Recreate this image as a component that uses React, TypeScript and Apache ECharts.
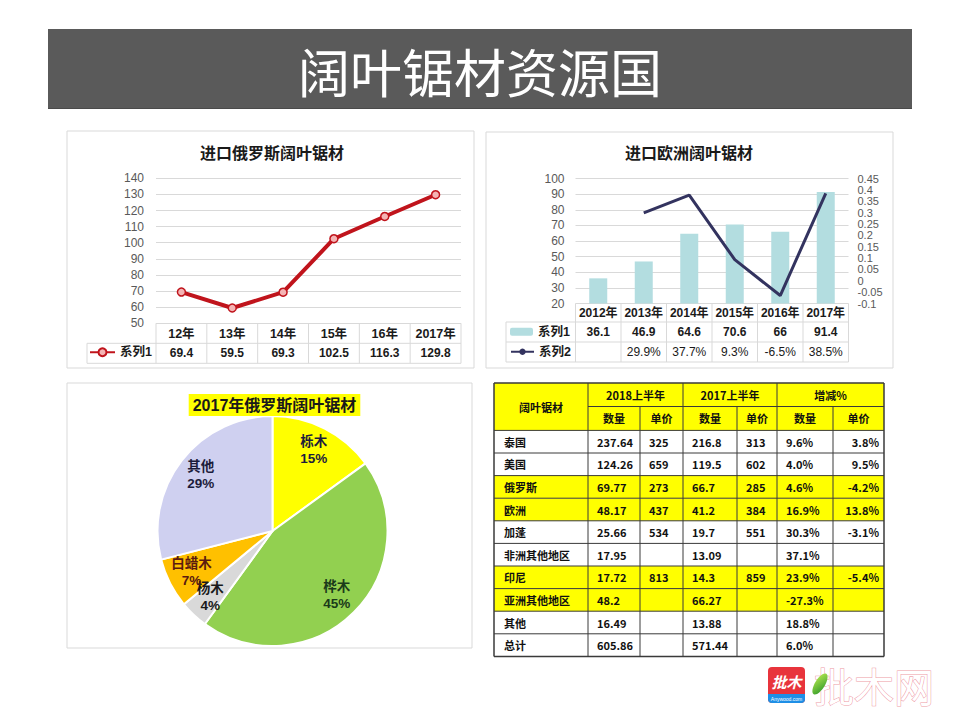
import React, { useEffect, useRef } from "react";
import * as echarts from "echarts";

// ---------------- data ----------------
const pageTitle = "阔叶锯材资源国";

const ruTitle = "进口俄罗斯阔叶锯材";
const ruYears = ["12年", "13年", "14年", "15年", "16年", "2017年"];
const ruValues = [69.4, 59.5, 69.3, 102.5, 116.3, 129.8];
const ruSeries = "俄罗斯:系列1";
const ruAxisTicks = { min: 50, max: 140, interval: 10 };

const euTitle = "进口欧洲阔叶锯材";
const euYears = ["2012年", "2013年", "2014年", "2015年", "2016年", "2017年"];
const euVolume = [36.1, 46.9, 64.6, 70.6, 66, 91.4];
const euGrowth = [null, 0.299, 0.377, 0.093, -0.065, 0.385];
const euSeries1 = "欧洲:系列1";
const euSeries2 = "欧洲:系列2";
const euLeftTicks = { min: 20, max: 100, interval: 10 };
const euRightTicks = { min: -0.1, max: 0.45, interval: 0.05 };

const pieTitle = "2017年俄罗斯阔叶锯材";
const pieNames = ["栎木", "桦木", "杨木", "白蜡木", "其他"];
const pieShares = [15, 45, 4, 7, 29];
const pieColors = ["#ffff00", "#92d050", "#d9d9d9", "#ffc000", "#cfd0f0"];
const pieLabelColors = ["#1c1c3c", "#1a3a1a", "#1a1a1a", "#5a1a10", "#1c1c3c"];

const tableHeadCorner = "阔叶锯材";
const tableGroups = ["2018上半年", "2017上半年", "增减%"];
const tableSubHeads = ["数量", "单价", "数量", "单价", "数量", "单价"];
const tableRows = ["泰国", "美国", "俄罗斯", "欧洲", "加蓬", "非洲其他地区", "印尼", "亚洲其他地区", "其他", "总计"];
const qty2018 = ["237.64", "124.26", "69.77", "48.17", "25.66", "17.95", "17.72", "48.2", "16.49", "605.86"];
const price2018 = ["325", "659", "273", "437", "534", "", "813", "", "", ""];
const qty2017 = ["216.8", "119.5", "66.7", "41.2", "19.7", "13.09", "14.3", "66.27", "13.88", "571.44"];
const price2017 = ["313", "602", "285", "384", "551", "", "859", "", "", ""];
const qtyChange = ["9.6%", "4.0%", "4.6%", "16.9%", "30.3%", "37.1%", "23.9%", "-27.3%", "18.8%", "6.0%"];
const priceChange = ["3.8%", "9.5%", "-4.2%", "13.8%", "-3.1%", "", "-5.4%", "", "", ""];
const highlightRows = [false, false, true, true, false, false, true, true, false, false];

// ---------------- layout ----------------
const LAT = '"Liberation Sans", "Noto Sans CJK SC", sans-serif';
const CJK = '"Noto Sans CJK SC", sans-serif';
const GRID_LINE = "#d9d9d9";

const G1 = { left: 156, top: 178.3, width: 305, height: 145 };
const G2 = { left: 575.5, top: 178.5, width: 273, height: 125 };
const PIE_CX = 272.5;
const PIE_CY = 531;
const PIE_R = 115;

const T_COLS = [494, 588, 640, 683, 737, 777, 833, 884];
const T_TOP = 383;
const T_MID = 406.5;
const T_DATA = 430.4;
const T_ROW = 22.6;

function buildTable(): any[] {
  const els: any[] = [];
  const left = T_COLS[0];
  const right = T_COLS[T_COLS.length - 1];
  const bottom = T_DATA + T_ROW * tableRows.length;
  els.push({ type: "rect", shape: { x: left, y: T_TOP, width: right - left, height: T_DATA - T_TOP }, style: { fill: "#ffff00" } });
  highlightRows.forEach((h, i) => {
    if (h) els.push({ type: "rect", shape: { x: left, y: T_DATA + i * T_ROW, width: right - left, height: T_ROW }, style: { fill: "#ffff00" } });
  });
  const line = (x1: number, y1: number, x2: number, y2: number, w = 1) =>
    els.push({ type: "line", shape: { x1, y1, x2, y2 }, style: { stroke: "#3a3a3a", lineWidth: w } });
  line(left, T_TOP, right, T_TOP, 1.5);
  line(T_COLS[1], T_MID, right, T_MID);
  for (let i = 0; i <= tableRows.length; i++) {
    const y = T_DATA + i * T_ROW;
    line(left, y, right, y, i === tableRows.length ? 1.5 : 1);
  }
  T_COLS.forEach((x, k) => {
    const full = k === 0 || k === 1 || k === 3 || k === 5 || k === 7;
    line(x, full ? T_TOP : T_MID, x, bottom, k === 0 || k === 7 ? 1.5 : 1);
  });
  const txt = (text: string, x: number, y: number, align: string) =>
    els.push({
      type: "text",
      x,
      y,
      style: { text, fill: "#111", font: `bold 11px ${CJK}`, align, verticalAlign: "middle" },
    });
  txt(tableHeadCorner, (T_COLS[0] + T_COLS[1]) / 2, (T_TOP + T_DATA) / 2, "center");
  tableGroups.forEach((g, k) => {
    txt(g, (T_COLS[1 + 2 * k] + T_COLS[3 + 2 * k]) / 2, (T_TOP + T_MID) / 2, "center");
  });
  tableSubHeads.forEach((s, k) => {
    txt(s, (T_COLS[1 + k] + T_COLS[2 + k]) / 2, (T_MID + T_DATA) / 2, "center");
  });
  const cols = [tableRows, qty2018, price2018, qty2017, price2017, qtyChange, priceChange];
  cols.forEach((col, c) => {
    col.forEach((v, r) => {
      if (!v) return;
      const y = T_DATA + (r + 0.5) * T_ROW;
      if (c === 6) txt(v, T_COLS[7] - 5, y, "right");
      else txt(v, T_COLS[c] + (c === 0 ? 10 : 9), y, "left");
    });
  });
  return els;
}

function chartTableLines(): any[] {
  const els: any[] = [];
  const l = (x1: number, y1: number, x2: number, y2: number) =>
    els.push({ type: "line", shape: { x1, y1, x2, y2 }, style: { stroke: GRID_LINE, lineWidth: 1 } });
  const b1 = G1.top + G1.height;
  const cw1 = G1.width / ruYears.length;
  for (let k = 0; k <= ruYears.length; k++) l(G1.left + k * cw1, b1, G1.left + k * cw1, b1 + 40);
  l(87, b1 + 20, G1.left + G1.width, b1 + 20);
  l(87, b1 + 40, G1.left + G1.width, b1 + 40);
  l(87, b1 + 20, 87, b1 + 40);
  const b2 = G2.top + G2.height;
  const cw2 = G2.width / euYears.length;
  for (let k = 0; k <= euYears.length; k++) l(G2.left + k * cw2, b2, G2.left + k * cw2, b2 + 58.5);
  [18.5, 38.5, 58.5].forEach((d) => l(506, b2 + d, G2.left + G2.width, b2 + d));
  l(506, b2 + 18.5, 506, b2 + 58.5);
  return els;
}

function buildLogo(): any[] {
  return [
    { type: "rect", shape: { x: 768, y: 667, width: 37, height: 36, r: 4 }, style: { fill: "#e8343c" } },
    { type: "rect", shape: { x: 768, y: 694, width: 37, height: 9, r: [0, 0, 4, 4] }, style: { fill: "#1e8fe6" } },
    { type: "text", x: 786.5, y: 681, style: { text: "批木", fill: "#fff", font: `italic bold 15px ${CJK}`, align: "center", verticalAlign: "middle" } },
    { type: "text", x: 786.5, y: 698.5, style: { text: "Anywood.com", fill: "#fff", font: `5px ${LAT}`, align: "center", verticalAlign: "middle" } },
    { type: "text", x: 874, y: 685, style: { text: "批木网", fill: "#fff", stroke: "#ee9aa6", lineWidth: 1, font: `40px ${CJK}`, align: "center", verticalAlign: "middle" } },
    {
      type: "ellipse",
      x: 820,
      y: 684,
      rotation: -0.55,
      shape: { cx: 0, cy: 0, rx: 5, ry: 12 },
      style: {
        fill: new echarts.graphic.LinearGradient(0, 0, 1, 1, [
          { offset: 0, color: "#b6e84e" },
          { offset: 1, color: "#2f9a2a" },
        ]),
      },
    },
  ];
}

function buildOption(): any {
  const pieTotal = pieShares.reduce((a, b) => a + b, 0);
  const pieMid = pieShares.map(
    (v, i) => ((pieShares.slice(0, i).reduce((a, b) => a + b, 0) + v / 2) / pieTotal) * Math.PI * 2
  );
  const legendFmt = (n: string) => n.split(":")[1];
  const valueAxisLabel = { color: "#595959", fontSize: 12, fontFamily: LAT };
  const hidden = { show: false };
  const headLabel = (margin: number, size: number, weight = "bold") => ({
    interval: 0,
    margin,
    fontSize: size,
    fontWeight: weight,
    color: "#1a1a1a",
    fontFamily: LAT,
  });
  const legendText = { fontSize: 12.5, fontWeight: "bold", color: "#1a1a1a", fontFamily: LAT };

  return {
    animation: false,
    backgroundColor: "#ffffff",
    title: [
      { text: ruTitle, left: 272, top: 144, textAlign: "center", padding: 0, textStyle: { fontSize: 16, fontWeight: "bold", color: "#1a1a1a", fontFamily: CJK } },
      { text: euTitle, left: 689, top: 144, textAlign: "center", padding: 0, textStyle: { fontSize: 16, fontWeight: "bold", color: "#1a1a1a", fontFamily: CJK } },
      {
        text: pieTitle,
        left: 270.5,
        top: 394,
        textAlign: "center",
        padding: [3, 4],
        backgroundColor: "#ffff00",
        textStyle: { fontSize: 16, fontWeight: "bold", color: "#1a1a1a", fontFamily: LAT },
      },
    ],
    legend: [
      { data: [ruSeries], left: 89, top: 346, padding: 0, itemGap: 0, itemWidth: 25, itemHeight: 10, formatter: legendFmt, textStyle: legendText },
      { data: [euSeries1], left: 510, top: 325.5, padding: 0, itemWidth: 23, itemHeight: 8, formatter: legendFmt, textStyle: legendText },
      { data: [euSeries2], left: 510, top: 345.5, padding: 0, itemWidth: 23, itemHeight: 8, formatter: legendFmt, textStyle: legendText },
    ],
    grid: [
      { ...G1, containLabel: false },
      { ...G2, containLabel: false },
    ],
    xAxis: [
      { gridIndex: 0, type: "category", data: ruYears, axisLabel: headLabel(4, 12.5), axisLine: hidden, axisTick: hidden },
      { gridIndex: 0, type: "category", data: ruValues.map(String), position: "bottom", offset: 20, axisLabel: headLabel(4, 12), axisLine: hidden, axisTick: hidden },
      { gridIndex: 1, type: "category", data: euYears, axisLabel: headLabel(3.5, 12), axisLine: hidden, axisTick: hidden },
      { gridIndex: 1, type: "category", data: euVolume.map(String), position: "bottom", offset: 18.5, axisLabel: headLabel(3.5, 12), axisLine: hidden, axisTick: hidden },
      {
        gridIndex: 1,
        type: "category",
        data: euGrowth.map((v) => (v == null ? "" : (v * 100).toFixed(1) + "%")),
        position: "bottom",
        offset: 38.5,
        axisLabel: headLabel(3.5, 12, "normal"),
        axisLine: hidden,
        axisTick: hidden,
      },
    ],
    yAxis: [
      { gridIndex: 0, type: "value", ...ruAxisTicks, axisLabel: { ...valueAxisLabel, margin: 12 }, axisLine: hidden, axisTick: hidden, splitLine: { lineStyle: { color: GRID_LINE } } },
      { gridIndex: 1, type: "value", ...euLeftTicks, axisLabel: { ...valueAxisLabel, margin: 11 }, axisLine: hidden, axisTick: hidden, splitLine: { lineStyle: { color: GRID_LINE } } },
      {
        gridIndex: 1,
        type: "value",
        position: "right",
        ...euRightTicks,
        axisLabel: {
          ...valueAxisLabel,
          fontSize: 11,
          lineHeight: 11,
          margin: 9,
          showMinLabel: true,
          showMaxLabel: true,
          formatter: (v: number) => String(Math.round(v * 100) / 100),
        },
        axisLine: hidden,
        axisTick: hidden,
        splitLine: hidden,
      },
    ],
    series: [
      {
        name: ruSeries,
        type: "line",
        xAxisIndex: 0,
        yAxisIndex: 0,
        data: ruValues,
        symbol: "circle",
        symbolSize: 8,
        lineStyle: { color: "#c0141c", width: 4 },
        itemStyle: { color: "#f4b4b4", borderColor: "#c0141c", borderWidth: 1.5 },
        z: 3,
      },
      {
        name: euSeries1,
        type: "bar",
        xAxisIndex: 2,
        yAxisIndex: 1,
        data: euVolume,
        barWidth: 18,
        itemStyle: { color: "#b3dde0" },
      },
      {
        name: euSeries2,
        type: "line",
        xAxisIndex: 2,
        yAxisIndex: 2,
        data: euGrowth,
        symbol: "none",
        lineStyle: { color: "#33335f", width: 3 },
        itemStyle: { color: "#33335f" },
        z: 3,
      },
      {
        name: pieTitle,
        type: "pie",
        center: [PIE_CX, PIE_CY],
        radius: PIE_R,
        startAngle: 90,
        clockwise: true,
        avoidLabelOverlap: false,
        itemStyle: { borderColor: "#ffffff", borderWidth: 2 },
        label: {
          show: true,
          position: "inside",
          formatter: "{b}\n{c}%",
          fontSize: 13.5,
          fontWeight: "bold",
          lineHeight: 17,
          fontFamily: LAT,
        },
        labelLine: { show: false },
        labelLayout: (p: any) => {
          const a = pieMid[p.dataIndex];
          return {
            x: PIE_CX + PIE_R * 0.79 * Math.sin(a),
            y: PIE_CY - PIE_R * 0.79 * Math.cos(a),
            align: "center",
            verticalAlign: "middle",
          };
        },
        data: pieNames.map((n, i) => ({
          name: n,
          value: pieShares[i],
          itemStyle: { color: pieColors[i] },
          label: { color: pieLabelColors[i] },
        })),
      },
    ],
    graphic: [
      {
        type: "group",
        silent: true,
        children: [
          { type: "rect", shape: { x: 48, y: 29, width: 864, height: 80 }, style: { fill: "#5a5a5a" } },
          { type: "line", shape: { x1: 48, y1: 108.5, x2: 912, y2: 108.5 }, style: { stroke: "#4a4a4a", lineWidth: 1 } },
          { type: "text", x: 480, y: 70, style: { text: pageTitle, fill: "#ffffff", font: `52px ${CJK}`, align: "center", verticalAlign: "middle" } },
          { type: "rect", shape: { x: 67, y: 131, width: 407, height: 237 }, style: { fill: "none", stroke: GRID_LINE, lineWidth: 1 } },
          { type: "rect", shape: { x: 486, y: 132, width: 407, height: 236 }, style: { fill: "none", stroke: GRID_LINE, lineWidth: 1 } },
          { type: "rect", shape: { x: 67, y: 383, width: 405, height: 265 }, style: { fill: "none", stroke: GRID_LINE, lineWidth: 1 } },
          ...chartTableLines(),
          ...buildTable(),
          ...buildLogo(),
        ],
      },
    ],
  };
}

export default function App() {
  const ref = useRef<HTMLDivElement>(null);
  useEffect(() => {
    if (!ref.current) return;
    const chart = echarts.init(ref.current, undefined, { renderer: "svg", width: 960, height: 720 });
    chart.setOption(buildOption());
    return () => chart.dispose();
  }, []);
  return (
    <div
      ref={ref}
      style={{ position: "absolute", left: 0, top: 0, width: 960, height: 720, background: "#ffffff" }}
    />
  );
}
